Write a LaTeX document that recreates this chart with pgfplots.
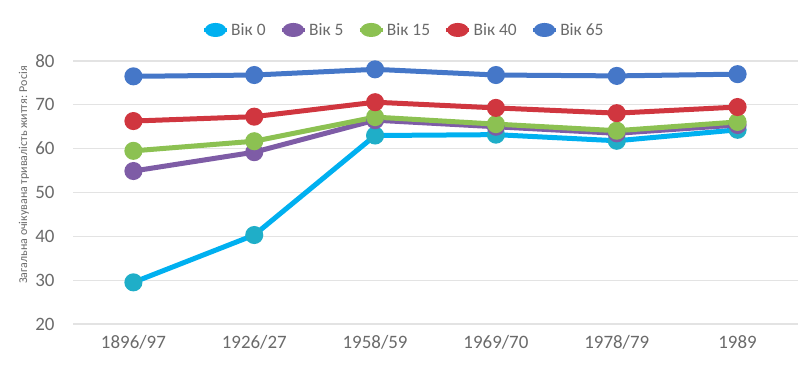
\documentclass[border=0pt]{standalone}
\usepackage{fontspec}
\setmainfont{Carlito}
\usepackage{pgfplots}
\pgfplotsset{compat=1.18}
\definecolor{c0}{HTML}{00B0F0}
\definecolor{c0m}{HTML}{1FAEC8}
\definecolor{c5}{HTML}{7E5CA6}
\definecolor{c15}{HTML}{8CC152}
\definecolor{c40}{HTML}{D0363F}
\definecolor{c65}{HTML}{4577C8}
\definecolor{gridc}{HTML}{E3E3E3}
\definecolor{txt}{HTML}{6A6A6A}
\begin{document}
\begin{tikzpicture}
\useasboundingbox (-73bp,-51bp) rectangle (727bp,324bp);
\begin{axis}[
  at={(0,0)}, anchor=south west,
  scale only axis, width=725bp, height=263bp,
  xmin=-0.5, xmax=5.5, ymin=20, ymax=80,
  xtick={0,...,5},
  xticklabels={1896/97,1926/27,1958/59,1969/70,1978/79,1989},
  ytick={20,30,...,80},
  axis line style={draw=none},
  ymajorgrids, grid style={gridc, line width=1.2bp},
  major tick style={draw=none},
  ticklabel style={font=\fontsize{19}{19}\selectfont, text=txt},
  /pgf/number format/assume math mode=true,
  yticklabel style={anchor=east, xshift=-15bp},
  xticklabel style={anchor=center, yshift=-18bp},
  legend style={at={(axis description cs:0.456,1.118)}, anchor=center, draw=none, fill=none,
    font=\fontsize{17.5}{17.5}\selectfont, text=txt,
    /tikz/every even column/.append style={column sep=12bp}},
  legend columns=5,
  legend image code/.code={\draw[line width=4.5bp] (0bp,0bp) -- (23bp,0bp); \fill (11.5bp,0bp) ellipse (8bp and 4.5bp);},
  every axis plot/.append style={line width=5bp, mark=*, mark size=6.5bp},
]
\addplot[c0, mark options={fill=c0m, draw=c0m}] coordinates {(0,29.5) (1,40.3) (2,63.0) (3,63.2) (4,61.8) (5,64.3)};
\addlegendentry{Вік 0}
\addplot[c5, mark options={fill=c5}] coordinates {(0,54.9) (1,59.2) (2,66.5) (3,65.0) (4,63.5) (5,65.4)};
\addlegendentry{Вік 5}
\addplot[c15, mark options={fill=c15}] coordinates {(0,59.5) (1,61.7) (2,67.2) (3,65.6) (4,64.1) (5,66.1)};
\addlegendentry{Вік 15}
\addplot[c40, mark options={fill=c40}] coordinates {(0,66.3) (1,67.3) (2,70.6) (3,69.3) (4,68.1) (5,69.5)};
\addlegendentry{Вік 40}
\addplot[c65, mark options={fill=c65}] coordinates {(0,76.5) (1,76.8) (2,78.1) (3,76.8) (4,76.6) (5,77.0)};
\addlegendentry{Вік 65}
\end{axis}
\node[rotate=90, font=\fontsize{12}{12}\selectfont, text=txt] at (-49bp,149bp) {Загальна очікувана тривалість життя: Росія};
\end{tikzpicture}
\end{document}
